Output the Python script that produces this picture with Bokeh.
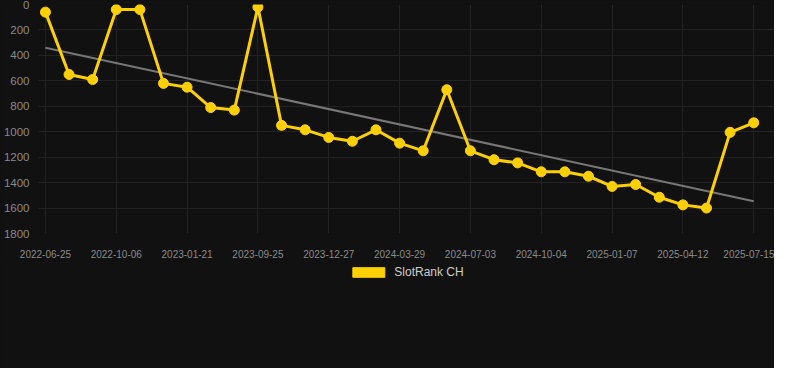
import numpy as np
from bokeh.plotting import figure
from bokeh.layouts import column
from bokeh.models import Range1d, FixedTicker, Legend, LegendItem
from bokeh.embed import file_html
from bokeh.resources import INLINE

# ---- data ----
tick_labels = ["2022-06-25", "2022-10-06", "2023-01-21", "2023-09-25", "2023-12-27",
               "2024-03-29", "2024-07-03", "2024-10-04", "2025-01-07", "2025-04-12",
               "2025-07-15"]
rank = [60, 550, 590, 40, 40, 620, 650, 810, 830, 20,
        950, 985, 1045, 1075, 985, 1090, 1150, 670, 1150, 1220,
        1245, 1315, 1315, 1350, 1430, 1415, 1515, 1575, 1600, 1005, 930]
series_name = "SlotRank CH"

idx = list(range(len(rank)))
slope, intercept = np.polyfit(idx, rank, 1)
trend_x = [idx[0], idx[-1]]
trend_y = [intercept + slope * t for t in trend_x]

BG = "#111111"
GRID = "#232323"
TXT = "#8a8a8a"
YEL = "#FFD000"

fig = figure(width=774, height=260, output_backend="svg", toolbar_location=None,
             x_range=Range1d(-0.294, 30.88), y_range=Range1d(1800, 0),
             background_fill_color=BG, border_fill_color=BG,
             min_border_left=32, min_border_right=0, min_border_top=4,
             min_border_bottom=25)
fig.outline_line_color = None

fig.xaxis.ticker = FixedTicker(ticks=list(range(0, len(rank), 3)))
fig.xaxis.major_label_overrides = {i * 3: lab for i, lab in enumerate(tick_labels)}
fig.yaxis.ticker = FixedTicker(ticks=list(range(0, 1801, 200)))

for ax in (fig.xaxis[0], fig.yaxis[0]):
    ax.axis_line_color = None
    ax.major_tick_line_color = None
    ax.minor_tick_line_color = None
    ax.major_label_text_color = TXT
    ax.major_label_text_font = "Liberation Sans"
fig.xaxis.major_label_text_font_size = "10px"
fig.xaxis.major_label_standoff = 10
fig.yaxis.major_label_text_font_size = "11.5px"
fig.yaxis.major_label_standoff = 3

fig.xgrid.grid_line_color = GRID
fig.ygrid.grid_line_color = GRID

fig.line(trend_x, trend_y, line_color="#777777", line_width=2)
fig.line(idx, rank, line_color=YEL, line_width=3)
fig.scatter(idx, rank, size=10, fill_color=YEL, line_color=YEL)

# legend strip below the chart (swatch renderer sits outside the visible range)
leg = figure(width=774, height=108, output_backend="svg", toolbar_location=None,
             x_range=Range1d(0, 1), y_range=Range1d(0, 1),
             x_axis_type=None, y_axis_type=None,
             background_fill_color=BG, border_fill_color=BG,
             min_border_left=0, min_border_right=0, min_border_top=0,
             min_border_bottom=0)
leg.outline_line_color = None
leg.grid.visible = False
swatch = leg.vbar(x=[5], top=[1], width=1, fill_color=YEL, line_color=YEL)
legend = Legend(items=[LegendItem(label=series_name, renderers=[swatch])],
                location="top_center", orientation="horizontal",
                background_fill_alpha=0, border_line_color=None,
                label_text_color="#cccccc", label_text_font="Liberation Sans",
                label_text_font_size="12px", glyph_width=40, glyph_height=12,
                label_standoff=6, padding=5, margin=5)
leg.add_layout(legend, "center")

p = column(fig, leg, spacing=0, styles={"background-color": BG})

open("out.html", "w").write(file_html(p, INLINE))
